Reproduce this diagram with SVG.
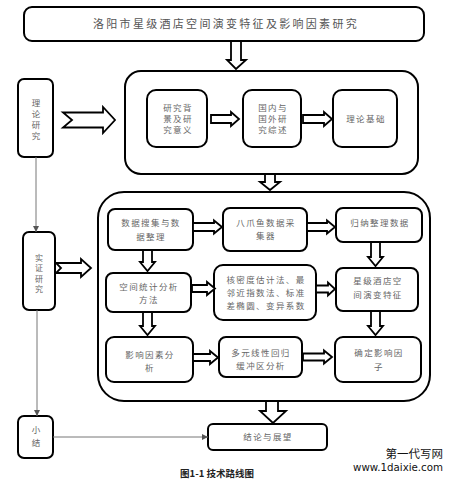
<svg xmlns="http://www.w3.org/2000/svg" width="454" height="480" viewBox="0 0 454 480">
<defs>
<marker id="ah" viewBox="0 0 8 8" refX="8" refY="4" markerWidth="6" markerHeight="6" orient="auto" markerUnits="userSpaceOnUse">
<path d="M0,0 L8,4 L0,8 Z" fill="#555"/>
</marker>
</defs>
<style>
.box{fill:#fff;stroke:#000;stroke-width:2}
.outer{fill:none;stroke:#000;stroke-width:2}
.t{font-family:"Noto Sans CJK SC","Noto Sans CJK JP",sans-serif;font-size:8.5px;fill:#666;letter-spacing:1.4px;text-anchor:middle}
.title{font-family:"Noto Sans CJK SC",sans-serif;font-size:11px;fill:#555;letter-spacing:2.3px;text-anchor:middle}
.v{font-family:"Noto Sans CJK SC",sans-serif;font-size:8.5px;fill:#666;text-anchor:middle}
.vs{font-family:"Noto Sans CJK SC",sans-serif;font-size:8px;fill:#666;text-anchor:middle}
.ha{fill:#fff;stroke:#000;stroke-width:1.8;stroke-linejoin:miter}
.ln{fill:none;stroke:#777;stroke-width:1}
</style>
<rect width="454" height="480" fill="#fff"/>

<g id="title">
<rect class="box" x="24" y="7" width="400" height="34" rx="8"/>
<text class="title" x="226" y="28">洛阳市星级酒店空间演变特征及影响因素研究</text>
</g>

<g id="theory-outer"><rect class="outer" x="125" y="71" width="293" height="103" rx="16"/></g>
<g id="empirical-outer"><rect class="outer" x="98" y="192" width="332" height="209" rx="26"/></g>

<g id="theory-label">
<rect class="box" x="18" y="79" width="35" height="78" rx="6"/>
<text class="v" x="36" y="106">理</text>
<text class="v" x="36" y="117">论</text>
<text class="v" x="36" y="128">研</text>
<text class="v" x="36" y="139">究</text>
</g>
<g id="empirical-label">
<rect class="box" x="23" y="232" width="32" height="78" rx="6"/>
<text class="vs" x="39" y="261">实</text>
<text class="vs" x="39" y="271.3">证</text>
<text class="vs" x="39" y="281.6">研</text>
<text class="vs" x="39" y="291.9">究</text>
</g>
<g id="summary-label">
<rect class="box" x="18" y="416" width="35" height="42" rx="6"/>
<text class="v" x="36" y="433">小</text>
<text class="v" x="36" y="446">结</text>
</g>

<g id="n1">
<rect class="box" x="147" y="90" width="60" height="57" rx="9"/>
<text class="t" x="178" y="111">研究背</text>
<text class="t" x="178" y="122">景及研</text>
<text class="t" x="178" y="133">究意义</text>
</g>
<g id="n2">
<rect class="box" x="243" y="90" width="58" height="57" rx="9"/>
<text class="t" x="273" y="111">国内与</text>
<text class="t" x="273" y="122">国外研</text>
<text class="t" x="273" y="133">究综述</text>
</g>
<g id="n3">
<rect class="box" x="333" y="90" width="64" height="57" rx="9"/>
<text class="t" x="366" y="122">理论基础</text>
</g>

<g id="e1">
<rect class="box" x="108" y="209" width="85" height="41" rx="7"/>
<text class="t" x="151" y="226">数据搜集与数</text>
<text class="t" x="151" y="240">据整理</text>
</g>
<g id="e2">
<rect class="box" x="223" y="208" width="84" height="43" rx="7"/>
<text class="t" x="266" y="226">八爪鱼数据采</text>
<text class="t" x="266" y="239">集器</text>
</g>
<g id="e3">
<rect class="box" x="336" y="208" width="86" height="34" rx="7"/>
<text class="t" x="380" y="226">归纳整理数据</text>
</g>
<g id="e4">
<rect class="box" x="106" y="273" width="85" height="39" rx="7"/>
<text class="t" x="149" y="290">空间统计分析</text>
<text class="t" x="149" y="303">方法</text>
</g>
<g id="e5">
<rect class="box" x="214" y="265" width="102" height="55" rx="9"/>
<text class="t" x="266" y="283">核密度估计法、最</text>
<text class="t" x="266" y="296">邻近指数法、标准</text>
<text class="t" x="266" y="309">差椭圆、变异系数</text>
</g>
<g id="e6">
<rect class="box" x="336" y="268" width="82" height="43" rx="7"/>
<text class="t" x="378" y="284">星级酒店空</text>
<text class="t" x="378" y="298">间演变特征</text>
</g>
<g id="e7">
<rect class="box" x="106" y="337" width="87" height="45" rx="8"/>
<text class="t" x="150" y="358">影响因素分</text>
<text class="t" x="150" y="371">析</text>
</g>
<g id="e8">
<rect class="box" x="219" y="337" width="83" height="40" rx="7"/>
<text class="t" x="261" y="356">多元线性回归</text>
<text class="t" x="261" y="369">缓冲区分析</text>
</g>
<g id="e9">
<rect class="box" x="335" y="337" width="86" height="45" rx="8"/>
<text class="t" x="379" y="356">确定影响因</text>
<text class="t" x="379" y="370">子</text>
</g>

<g id="conclusion">
<rect class="box" x="208" y="424" width="119" height="26" rx="5"/>
<text class="t" x="268" y="440">结论与展望</text>
</g>

<g id="connectors">
<polygon class="ha" points="231,41 241,41 241,60 246,60 236,69 227,60 231,60"/>
<polygon class="ha" points="265,174 275,174 275,182 280,182 270,190 260,182 265,182"/>
<polygon class="ha" points="143,250 152,250 152,262 155,262 147.5,271 140,262 143,262"/>
<polygon class="ha" points="371,242 380,242 380,257 383,257 375.5,266 368,257 371,257"/>
<polygon class="ha" points="143,312 152,312 152,326 155,326 147.5,335 140,326 143,326"/>
<polygon class="ha" points="371,311 380,311 380,326 383,326 375.5,335 368,326 371,326"/>
<polygon class="ha" points="266,401 278,401 278,411 286,411 273,423 260,411 266,411"/>
<polygon class="ha" points="63,112.5 103,112.5 103,107 115,120 103,133 103,127.5 63,127.5 72,120"/>
<polygon class="ha" points="56,263 81,263 81,259 91,268 81,277 81,273 56,273 61,268"/>
<polygon class="ha" points="211,115 231,115 231,112 239,119 231,126 231,123 211,123"/>
<polygon class="ha" points="303,115 324,115 324,112 332,119 324,126 324,123 303,123"/>
<polygon class="ha" points="193,223 214,223 214,220.5 222,227 214,233.5 214,231 193,231"/>
<polygon class="ha" points="307,223 327,223 327,220.5 335,227 327,233.5 327,231 307,231"/>
<polygon class="ha" points="192,285 207,285 207,282 215,288.5 207,295 207,292 192,292"/>
<polygon class="ha" points="316,285.5 328,285.5 328,282.5 335,289 328,295.5 328,292.5 316,292.5"/>
<polygon class="ha" points="193,354 210,354 210,351 218,357.5 210,364 210,361 193,361"/>
<polygon class="ha" points="303,353.5 324,353.5 324,350.5 332,357 324,363.5 324,360.5 303,360.5"/>
<line class="ln" x1="36" y1="157" x2="36" y2="232" marker-end="url(#ah)"/>
<line class="ln" x1="37" y1="310" x2="37" y2="416" marker-end="url(#ah)"/>
<line class="ln" x1="53" y1="437" x2="208" y2="437" marker-end="url(#ah)"/>
</g>

<text x="217" y="477" font-family="Noto Sans CJK SC,sans-serif" font-size="9.5" font-weight="bold" fill="#222" text-anchor="middle">图1-1 技术路线图</text>
<text x="443" y="458" font-family="Noto Sans CJK SC,sans-serif" font-size="11.5" fill="#111" text-anchor="end">第一代写网</text>
<text x="443" y="471" font-family="DejaVu Sans,sans-serif" font-size="11" fill="#111" text-anchor="end" textLength="90" lengthAdjust="spacingAndGlyphs">www.1daixie.com</text>
</svg>
